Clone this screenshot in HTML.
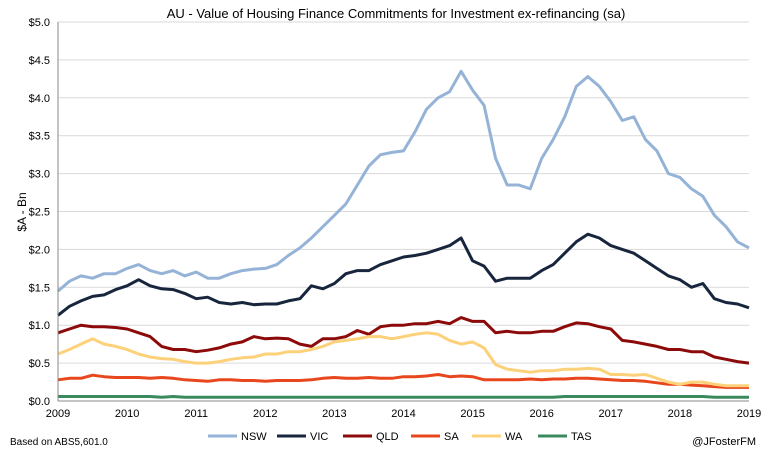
<!DOCTYPE html>
<html><head><meta charset="utf-8"><style>
body{margin:0;background:#fff;}
svg text{font-family:"Liberation Sans",sans-serif;}
</style></head><body>
<svg id="chart" width="766" height="457" xmlns="http://www.w3.org/2000/svg">
<rect width="766" height="457" fill="#fff"/>
<text x="396" y="18" font-size="13" text-anchor="middle" fill="#000">AU - Value of Housing Finance Commitments for Investment ex-refinancing (sa)</text>
<g id="grid"></g><g id="series"></g><g id="axes"></g>
<text transform="translate(26,212) rotate(-90)" font-size="12" text-anchor="middle" fill="#000">$A - Bn</text>
<g id="legend"></g>
<text x="10" y="445" font-size="10" fill="#000">Based on ABS5,601.0</text>
<text x="756" y="445" font-size="11" text-anchor="end" fill="#000">@JFosterFM</text>
</svg>
<script>
const years=[2009,2010,2011,2012,2013,2014,2015,2016,2017,2018,2019];
const yTicks=[0,0.5,1,1.5,2,2.5,3,3.5,4,4.5,5];
const seriesNames=["NSW","VIC","QLD","SA","WA","TAS"];
const nsw=[1.45,1.58,1.65,1.62,1.68,1.68, 1.75,1.80,1.72,1.68,1.72,1.65, 1.70,1.62,1.62,1.68,1.72,1.74, 1.75,1.80,1.92,2.02,2.15,2.30, 2.45,2.60,2.85,3.10,3.25,3.28, 3.30,3.55,3.85,4.00,4.08,4.35, 4.10,3.90,3.20,2.85,2.85,2.80, 3.20,3.45,3.75,4.15,4.28,4.15, 3.95,3.70,3.75,3.45,3.30,3.00, 2.95,2.80,2.70,2.45,2.30,2.10, 2.02];
const vic=[1.13,1.25,1.32,1.38,1.40,1.47, 1.52,1.60,1.52,1.48,1.47,1.42, 1.35,1.37,1.30,1.28,1.30,1.27, 1.28,1.28,1.32,1.35,1.52,1.48, 1.55,1.68,1.72,1.72,1.80,1.85, 1.90,1.92,1.95,2.00,2.05,2.15, 1.85,1.78,1.58,1.62,1.62,1.62, 1.72,1.80,1.95,2.10,2.20,2.15, 2.05,2.00,1.95,1.85,1.75,1.65, 1.60,1.50,1.55,1.35,1.30,1.28, 1.23];
const qld=[0.90,0.95,1.00,0.98,0.98,0.97, 0.95,0.90,0.85,0.72,0.68,0.68, 0.65,0.67,0.70,0.75,0.78,0.85, 0.82,0.83,0.82,0.75,0.72,0.82, 0.82,0.85,0.93,0.88,0.98,1.00, 1.00,1.02,1.02,1.05,1.02,1.10, 1.05,1.05,0.90,0.92,0.90,0.90, 0.92,0.92,0.98,1.03,1.02,0.98, 0.95,0.80,0.78,0.75,0.72,0.68, 0.68,0.65,0.65,0.58,0.55,0.52, 0.50];
const sa=[0.28,0.30,0.30,0.34,0.32,0.31, 0.31,0.31,0.30,0.31,0.30,0.28, 0.27,0.26,0.28,0.28,0.27,0.27, 0.26,0.27,0.27,0.27,0.28,0.30, 0.31,0.30,0.30,0.31,0.30,0.30, 0.32,0.32,0.33,0.35,0.32,0.33, 0.32,0.28,0.28,0.28,0.28,0.29, 0.28,0.29,0.29,0.30,0.30,0.29, 0.28,0.27,0.27,0.26,0.24,0.22, 0.22,0.21,0.20,0.19,0.18,0.18, 0.18];
const wa=[0.62,0.68,0.75,0.82,0.75,0.72, 0.68,0.62,0.58,0.56,0.55,0.52, 0.50,0.50,0.52,0.55,0.57,0.58, 0.62,0.62,0.65,0.65,0.68,0.72, 0.78,0.80,0.82,0.85,0.85,0.82, 0.85,0.88,0.90,0.88,0.80,0.75, 0.78,0.70,0.48,0.42,0.40,0.38, 0.40,0.40,0.42,0.42,0.43,0.42, 0.35,0.35,0.34,0.35,0.30,0.25, 0.22,0.25,0.25,0.22,0.20,0.20, 0.20];
const tas=[0.06,0.06,0.06,0.06,0.06,0.06, 0.06,0.06,0.06,0.05,0.06,0.05, 0.05,0.05,0.05,0.05,0.05,0.05, 0.05,0.05,0.05,0.05,0.05,0.05, 0.05,0.05,0.05,0.05,0.05,0.05, 0.05,0.05,0.05,0.05,0.05,0.05, 0.05,0.05,0.05,0.05,0.05,0.05, 0.05,0.05,0.06,0.06,0.06,0.06, 0.06,0.06,0.06,0.06,0.06,0.06, 0.06,0.06,0.06,0.05,0.05,0.05, 0.05];
const colors=["#95b3d7","#17263d","#8c0a0a","#e8461c","#fdd17a","#3a8a5e"];
const X0=58,X1=749,Y0=401,Y1=22;
const xs=t=>X0+(t-2009)/10*(X1-X0);
const ys=v=>Y0-v/5*(Y0-Y1);
const NS="http://www.w3.org/2000/svg";
function mk(tag,attrs,parent){const e=document.createElementNS(NS,tag);for(const k in attrs)e.setAttribute(k,attrs[k]);parent.appendChild(e);return e;}
const grid=document.getElementById('grid'),axes=document.getElementById('axes'),ser=document.getElementById('series'),leg=document.getElementById('legend');
yTicks.forEach(v=>{
  if(v>0){const l=mk('line',{x1:X0,x2:X1,y1:ys(v),y2:ys(v),stroke:'#d9d9d9','stroke-width':1},grid);
  
  }
  const t=mk('text',{x:X0-8,y:ys(v)+4,'font-size':11,'text-anchor':'end',fill:'#000'},axes);
  t.textContent='$'+v.toFixed(1);
  
  
});
const ax=mk('line',{x1:X0,x2:X0,y1:Y1,y2:Y0,stroke:'#888','stroke-width':1},axes);


const bx=mk('line',{x1:X0,x2:X1,y1:Y0,y2:Y0,stroke:'#888','stroke-width':1},axes);


years.forEach(y=>{
  const t=mk('text',{x:xs(y),y:Y0+16,'font-size':11,'text-anchor':'middle',fill:'#000'},axes);
  t.textContent=y;
  
  
});
const data=[nsw,vic,qld,sa,wa,tas];
data.forEach((arr,i)=>{
  const n=arr.length;
  const pts=arr.map((v,j)=>xs(2009+10*j/(n-1)).toFixed(1)+','+ys(v).toFixed(1)).join(' ');
  const p=mk('polyline',{points:pts,fill:'none',stroke:colors[i],'stroke-width':3,'stroke-linejoin':'round'},ser);
  
  
});
const lx=[208,277,343,411,472,538];
seriesNames.forEach((s,i)=>{
  const g=mk('g',{},leg);
  
  
  mk('line',{x1:lx[i],x2:lx[i]+29,y1:436,y2:436,stroke:colors[i],'stroke-width':3},g);
  const t=mk('text',{x:lx[i]+33,y:440,'font-size':11,fill:'#000'},g);
  t.textContent=s;
});
</script>
</body></html>
